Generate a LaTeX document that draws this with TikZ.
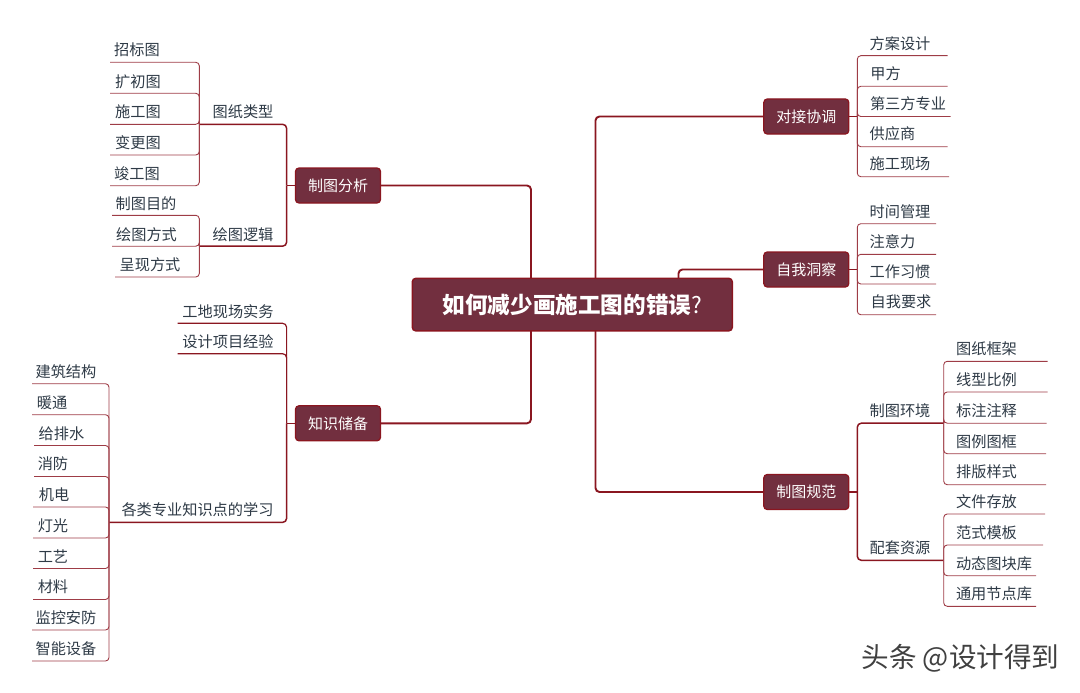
\documentclass[tikz,border=0pt]{standalone}
\usepackage{fontspec}
\setmainfont{Noto Sans CJK SC}
\definecolor{nodefill}{HTML}{722F3F}
\definecolor{edge}{HTML}{8A1620}
\definecolor{twigc}{HTML}{9E3C46}
\definecolor{txt}{HTML}{2E3A46}
\tikzset{
  topicbox/.style={draw=edge,line width=1.3pt,fill=nodefill,rounded corners=3.5pt,text=white,minimum width=85pt,minimum height=35pt,inner sep=0pt,font=\fontsize{15}{18}\selectfont},
  rootbox/.style={draw=edge,line width=1.5pt,fill=nodefill,rounded corners=3.5pt,text=white,minimum width=320pt,minimum height=52.5pt,inner sep=0pt},
  labeltext/.style={text=txt,inner sep=0pt,yshift=-0.8pt,font=\fontsize{15.2}{18}\selectfont},
  mainline/.style={draw=edge,line width=1.9pt,rounded corners=4pt},
  branchline/.style={draw=edge,line width=1.5pt,rounded corners=4pt},
  twigline/.style={draw=twigc,line width=0.9pt,rounded corners=3.5pt},
}
\newcommand{\leafitem}[7]{%
  \node[labeltext] (#1) at (#2,#3) {#4};
  \coordinate (#1e) at (#5,#6);
  \draw[twigline] (#7) |- (#1e);}
\begin{document}
\begin{tikzpicture}[x=1pt,y=-1pt]
\useasboundingbox (0,0) rectangle (1080,693);
% root and topics
\node[rootbox] (root) at (572.3,304.6) {\fontsize{22.6}{26}\selectfont\bfseries 如何减少画施工图的错误\mdseries ?};
\node[topicbox] (fx) at (338,185.5) {制图分析};
\node[topicbox] (zs) at (338,423.3) {知识储备};
\node[topicbox] (dj) at (806.3,116.5) {对接协调};
\node[topicbox] (zw) at (806.3,269.5) {自我洞察};
\node[topicbox] (gf) at (806.3,492) {制图规范};
% trunk ends on the root
\coordinate (ra) at (531,278);
\coordinate (rb) at (531,331);
\coordinate (rc) at (595.5,278);
\coordinate (rd) at (595.5,331);
\coordinate (re) at (678.5,278);
\draw[mainline] (fx.east) -| (ra);
\draw[mainline] (zs.east) -| (rb);
\draw[mainline] (dj.west) -| (rc);
\draw[mainline] (gf.west) -| (rd);
\draw[mainline] (zw.west) -| (re);
% spines beside the topics
\coordinate (fxs) at (286.6,185.5);
\coordinate (zss) at (286.6,423.3);
\coordinate (djs) at (857.3,116.5);
\coordinate (zws) at (857.3,269.5);
\coordinate (gfs) at (857.3,492);
\draw[branchline] (fx.west) -- (fxs);
\draw[branchline] (zs.west) -- (zss);
\draw[branchline] (dj.east) -- (djs);
\draw[branchline] (zw.east) -- (zws);
\draw[branchline] (gf.east) -- (gfs);
% second level
\node[labeltext] (tz) at (243,111) {图纸类型};
\coordinate (tzj) at (199.3,124.3);
\draw[branchline] (fxs) |- (tzj);
\node[labeltext] (lj) at (243,233.5) {绘图逻辑};
\coordinate (ljj) at (199.3,246.2);
\draw[branchline] (fxs) |- (ljj);
\node[labeltext] (gd) at (228,310.5) {工地现场实务};
\coordinate (gde) at (177.5,323.3);
\draw[branchline,line width=1.2pt] (zss) |- (gde);
\node[labeltext] (sj) at (228,341) {设计项目经验};
\coordinate (sje) at (177.5,353.7);
\draw[branchline,line width=1.2pt] (zss) |- (sje);
\node[labeltext] (gl) at (197.5,509) {各类专业知识点的学习};
\coordinate (glj) at (109,522.4);
\draw[branchline] (zss) |- (glj);
\node[labeltext] (hj) at (900,410) {制图环境};
\coordinate (hjj) at (943.7,423.2);
\draw[branchline] (gfs) |- (hjj);
\node[labeltext] (pt) at (900,547) {配套资源};
\coordinate (ptj) at (943.7,560.3);
\draw[branchline] (gfs) |- (ptj);
% leaves: drawing type
\leafitem{a1}{137}{49.3}{招标图}{110}{62.3}{tzj}
\leafitem{a2}{138}{80.5}{扩初图}{110}{93.3}{tzj}
\leafitem{a3}{138}{111}{施工图}{110}{124.3}{tzj}
\leafitem{a4}{138}{142}{变更图}{110}{155}{tzj}
\leafitem{a5}{137}{173}{竣工图}{110}{185.7}{tzj}
% leaves: drawing logic
\leafitem{b1}{146}{203}{制图目的}{112}{215.3}{ljj}
\leafitem{b2}{146.5}{233.5}{绘图方式}{112}{246.2}{ljj}
\leafitem{b3}{150}{264}{呈现方式}{115}{277}{ljj}
% leaves: specialities
\leafitem{c1}{66}{371}{建筑结构}{32}{383.7}{glj}
\leafitem{c2}{52}{401.5}{暖通}{32}{414.7}{glj}
\leafitem{c3}{61.5}{432.5}{给排水}{34}{445.5}{glj}
\leafitem{c4}{53}{463}{消防}{34}{476.5}{glj}
\leafitem{c5}{54}{494}{机电}{33}{507}{glj}
\leafitem{c6}{53}{525}{灯光}{33}{538}{glj}
\leafitem{c7}{53}{556}{工艺}{33}{568.5}{glj}
\leafitem{c8}{53}{586}{材料}{33}{599.5}{glj}
\leafitem{c9}{66}{617}{监控安防}{32}{630}{glj}
\leafitem{c10}{66}{648}{智能设备}{32}{661}{glj}
% leaves: liaison
\leafitem{d1}{900}{43}{方案设计}{947.7}{55.7}{djs}
\leafitem{d2}{885.5}{73}{甲方}{947.7}{86.3}{djs}
\leafitem{d3}{908}{103}{第三方专业}{950.7}{116.5}{djs}
\leafitem{d4}{892.5}{133}{供应商}{947.7}{146.7}{djs}
\leafitem{d5}{900}{163}{施工现场}{949}{176.7}{djs}
% leaves: self insight
\leafitem{e1}{900}{211}{时间管理}{936}{223.7}{zws}
\leafitem{e2}{892.5}{241}{注意力}{936}{254.3}{zws}
\leafitem{e3}{900}{271}{工作习惯}{936}{284}{zws}
\leafitem{e4}{901}{301}{自我要求}{936}{314.7}{zws}
% leaves: environment
\leafitem{f1}{986.5}{348}{图纸框架}{1047.7}{361.3}{hjj}
\leafitem{f2}{986.5}{379}{线型比例}{1047.7}{392}{hjj}
\leafitem{f3}{986.5}{410}{标注注释}{1046.7}{423.2}{hjj}
\leafitem{f4}{986.5}{440.5}{图例图框}{1046}{453.7}{hjj}
\leafitem{f5}{986.5}{471}{排版样式}{1046}{484.7}{hjj}
% leaves: resources
\leafitem{g1}{986.5}{501}{文件存放}{1045}{514}{ptj}
\leafitem{g2}{986.5}{532}{范式模板}{1043}{545}{ptj}
\leafitem{g3}{994}{562.5}{动态图块库}{1036}{575.7}{ptj}
\leafitem{g4}{994}{593}{通用节点库}{1036}{606.3}{ptj}
% watermark
\node[text=black!75,inner sep=0pt,font=\fontsize{27.6}{32}\selectfont] (wm) at (960.5,658) {头条 @设计得到};
\end{tikzpicture}
\end{document}
